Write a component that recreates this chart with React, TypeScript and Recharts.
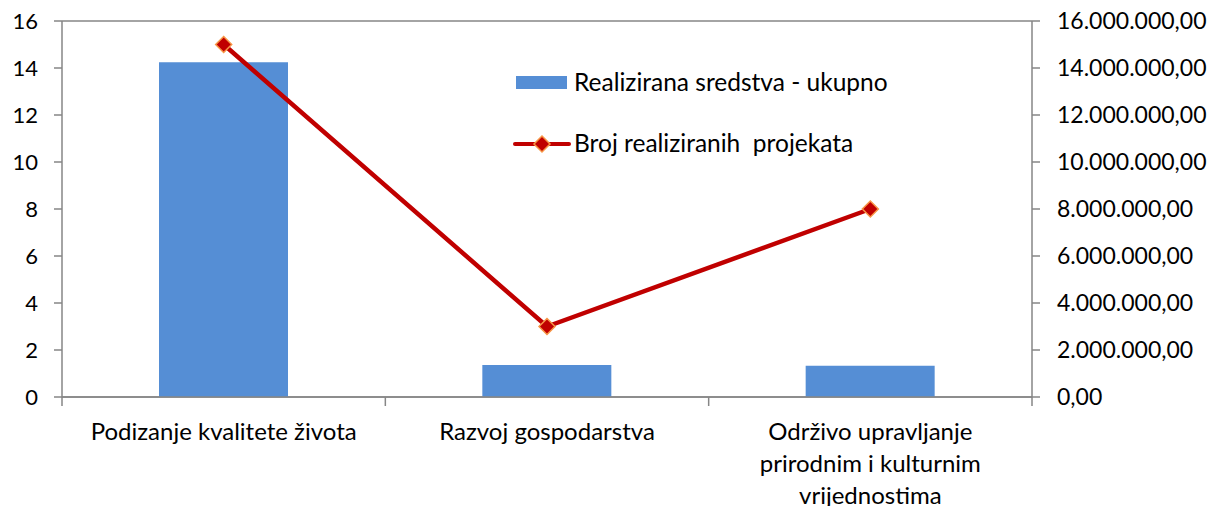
import React from 'react';
import { ComposedChart, Bar, Line, XAxis, YAxis, CartesianGrid } from 'recharts';

const categories = ['Podizanje kvalitete života', 'Razvoj gospodarstva', 'Održivo upravljanje prirodnim i kulturnim vrijednostima'];
const categoryLines = [['Podizanje kvalitete života'], ['Razvoj gospodarstva'], ['Održivo upravljanje', 'prirodnim i kulturnim', 'vrijednostima']];
const sredstva = [14250000, 1357000, 1330000];
const projekti = [15, 3, 8];
const leftTicks = [0, 2, 4, 6, 8, 10, 12, 14, 16];
const rightTicks = [0, 2000000, 4000000, 6000000, 8000000, 10000000, 12000000, 14000000, 16000000];
const seriesNames = ['Realizirana sredstva - ukupno', 'Broj realiziranih  projekata'];

const data = categories.map((c, i) => ({ name: c, sredstva: sredstva[i], projekti: projekti[i] }));

const FONT = 'Lato, "Open Sans", sans-serif';
const GRID = '#868686';
const BAR = '#558ED5';
const LINE = '#C00000';
const MARK_STROKE = '#F79646';

const fmtRight = (v: number) => {
  if (v === 0) return '0,00';
  const s = Math.round(v).toString().replace(/\B(?=(\d{3})+(?!\d))/g, '.');
  return s + ',00';
};

const Diamond = (props: any) => {
  const { cx, cy } = props;
  if (cx == null || cy == null) return null;
  const r = 8;
  return (
    <polygon
      points={`${cx},${cy - r} ${cx + r},${cy} ${cx},${cy + r} ${cx - r},${cy}`}
      fill={LINE}
      stroke={MARK_STROKE}
      strokeWidth={1.5}
    />
  );
};

const CatTick = (props: any) => {
  const { x, y, payload } = props;
  const lines = categoryLines[payload.index] || [payload.value];
  return (
    <g>
      {lines.map((l: string, i: number) => (
        <text key={i} x={x} y={y + 35 + i * 32} textAnchor="middle" fontFamily={FONT} fontSize={24} fill="#000">
          {l}
        </text>
      ))}
    </g>
  );
};

export default function App() {
  return (
    <div style={{ position: 'absolute', left: 0, top: 0, width: 1217, height: 506, background: '#fff' }}>
      <ComposedChart width={1217} height={506} data={data} margin={{ top: 21, right: 0, bottom: 0, left: 0 }} barCategoryGap="30%">
        <CartesianGrid vertical={false} stroke={GRID} strokeWidth={1.5} />
        <XAxis
          dataKey="name"
          height={109}
          interval={0}
          tick={<CatTick />}
          axisLine={{ stroke: GRID, strokeWidth: 1.5 }}
          tickLine={false}
        />
        <YAxis
          yAxisId="left"
          orientation="left"
          width={62}
          domain={[0, 16]}
          ticks={leftTicks}
          interval={0}
          tickSize={8}
          tickMargin={16}
          axisLine={{ stroke: GRID, strokeWidth: 1.5 }}
          tickLine={{ stroke: GRID, strokeWidth: 1.5 }}
          tick={{ fontFamily: FONT, fontSize: 22, fill: '#000' }}
        />
        <YAxis
          yAxisId="right"
          orientation="right"
          width={185}
          domain={[0, 16000000]}
          ticks={rightTicks}
          interval={0}
          tickSize={8}
          tickMargin={17}
          tickFormatter={fmtRight}
          axisLine={{ stroke: GRID, strokeWidth: 1.5 }}
          tickLine={{ stroke: GRID, strokeWidth: 1.5 }}
          tick={{ fontFamily: FONT, fontSize: 23, fill: '#000', textAnchor: 'start' }}
        />
        <Bar yAxisId="right" dataKey="sredstva" name={seriesNames[0]} fill={BAR} isAnimationActive={false} />
        <Line
          yAxisId="left"
          dataKey="projekti"
          name={seriesNames[1]}
          stroke={LINE}
          strokeWidth={4.5}
          dot={<Diamond />}
          activeDot={false}
          isAnimationActive={false}
        />
      </ComposedChart>
      <svg width={1217} height={506} style={{ position: 'absolute', left: 0, top: 0, pointerEvents: 'none' }}>
        {[0, 1, 2, 3].map((i) => {
          const x = 62 + (i * (1032 - 62)) / 3;
          return <line key={i} x1={x} y1={397} x2={x} y2={406} stroke={GRID} strokeWidth={1.5} />;
        })}
        <rect x={516} y={76} width={51} height={13} fill={BAR} />
        <text x={574} y={91} fontFamily={FONT} fontSize={24.5} fill="#000">{seriesNames[0]}</text>
        <line x1={515} y1={144} x2={569} y2={144} stroke={LINE} strokeWidth={4} strokeLinecap="round" />
        <polygon points="542,136 550,144 542,152 534,144" fill={LINE} stroke={MARK_STROKE} strokeWidth={1.5} />
        <text x={574} y={152} fontFamily={FONT} fontSize={24.5} fill="#000" style={{ whiteSpace: 'pre' }}>{seriesNames[1]}</text>
      </svg>
    </div>
  );
}
